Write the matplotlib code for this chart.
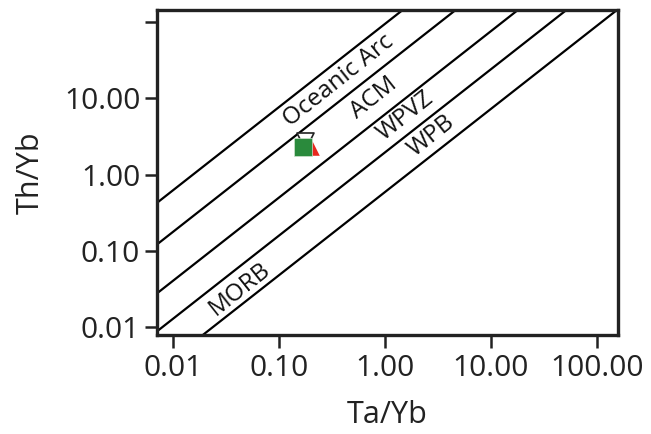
import matplotlib
matplotlib.use("Agg")
import matplotlib.pyplot as plt
import numpy as np

plt.rcParams['font.family'] = ['Open Sans', 'DejaVu Sans']

# Boundary lines: Th/Yb values at Ta/Yb = 0.001 and 1000
line_ta = [0.001, 1000.0]
line_th = {
    "L1": [0.0507, 10**5.245],
    "L2": [10**-1.84, 10**4.70],
    "L3": [0.0033, 10**4.06],
    "L4": [0.00105, 10**3.56],
    "L5": [0.000318, 10**3.04],
}

# Field labels: (text, Ta/Yb, Th/Yb)
labels = ["Oceanic Arc", "ACM", "WPVZ", "WPB", "MORB"]
label_x = [0.368, 0.787, 1.58, 2.77, 0.0428]
label_y = [17.3, 10.2, 5.97, 3.26, 0.0316]

# Samples
sq_x, sq_y = [0.168], [2.33]
tri_x, tri_y = [0.205], [2.27]
vtri_x, vtri_y = [0.176], [2.8]

xticks = [0.01, 0.1, 1, 10, 100]
xticklabels = ["0.01", "0.10", "1.00", "10.00", "100.00"]
yticks = [0.01, 0.1, 1, 10, 100]
yticklabels = ["0.01", "0.10", "1.00", "10.00", ""]

fig = plt.figure(figsize=(6.51, 4.34), dpi=100)
ax = fig.add_axes([0.241, 0.228, 0.708, 0.749])
ax.set_xscale('log')
ax.set_yscale('log')
ax.set_xlim(10**-2.15, 10**2.2)
ax.set_ylim(10**-2.1, 10**2.16)

for k, v in line_th.items():
    ax.plot(line_ta, v, color='black', lw=1.6, zorder=2, solid_capstyle='butt')

for t, x, y in zip(labels, label_x, label_y):
    ax.text(x, y, t, rotation=38.5, rotation_mode='anchor', ha='center', va='center',
            fontsize=17.5, color='#111111', zorder=3)

ax.scatter(vtri_x, vtri_y, marker='v', s=150, facecolor='white', edgecolor='#222222',
           linewidths=1.2, zorder=4)
ax.scatter(tri_x, tri_y, marker='^', s=110, color='#e8271e', linewidths=0, zorder=5)
ax.scatter(sq_x, sq_y, marker='s', s=150, color='#2a8a3c', edgecolor='#cfe3cf',
           linewidths=0.5, zorder=6)

ax.set_xticks(xticks)
ax.set_xticklabels(xticklabels)
ax.set_yticks(yticks)
ax.set_yticklabels(yticklabels)
ax.minorticks_off()
ax.tick_params(axis='both', direction='out', length=9, width=1.8, labelsize=21.5,
               colors='#222222')
ax.tick_params(axis='x', pad=5)
ax.tick_params(axis='y', pad=3)
for s in ax.spines.values():
    s.set_linewidth(2.4)
    s.set_color('#222222')

ax.set_xlabel('Ta/Yb', fontsize=22, color='#222222', labelpad=12)
ax.set_ylabel('Th/Yb', fontsize=22, color='#222222', labelpad=13)

fig.savefig('out.png', dpi=100)
